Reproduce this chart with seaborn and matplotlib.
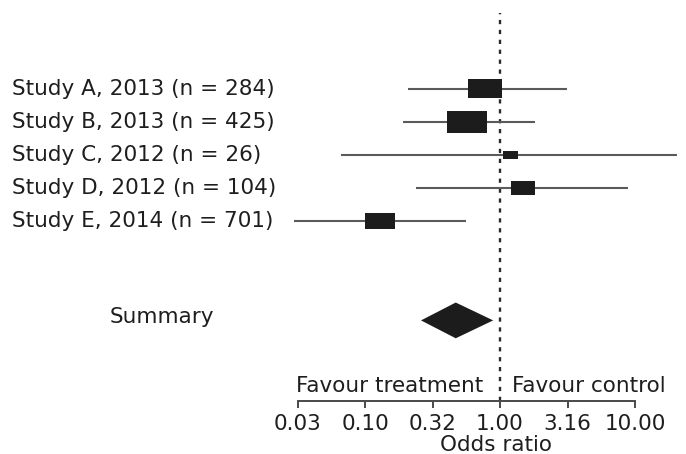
import numpy as np
import pandas as pd
import matplotlib
matplotlib.use("Agg")
import matplotlib.pyplot as plt
from matplotlib.path import Path
from matplotlib.ticker import NullLocator
import seaborn as sns

studies = ["Study A, 2013 (n = 284)", "Study B, 2013 (n = 425)", "Study C, 2012 (n = 26)",
           "Study D, 2012 (n = 104)", "Study E, 2014 (n = 701)"]
odds = [0.77, 0.57, 1.19, 1.47, 0.13]
ci_low = [0.21, 0.19, 0.066, 0.24, 0.030]
ci_high = [3.12, 1.82, 20.4, 8.9, 0.56]
weights = [26, 36, 5, 13, 20]

summary_label = "Summary"
summary_or = 0.47
summary_low = 0.26
summary_high = 0.89

tick_values = [10 ** -1.5, 0.1, 10 ** -0.5, 1.0, 10 ** 0.5, 10.0]
tick_labels = ["0.03", "0.10", "0.32", "1.00", "3.16", "10.00"]

sns.set_style("white")
plt.rcParams['font.family'] = ['DejaVu Sans']

df = pd.DataFrame({"study": studies, "OR": odds, "lo": ci_low, "hi": ci_high,
                   "weight": weights, "row": np.arange(len(studies))})
summary_row = 7

TEXT = "#1e1e1e"
FS = 15.5
fig = plt.figure(figsize=(6.86, 4.54), dpi=100)
ax = fig.add_axes([0, 53 / 454, 1, 401 / 454])

# confidence intervals
ax.hlines(df["row"], df["lo"], df["hi"], color="#5a5a5a", lw=1.5, zorder=2)

# weighted boxes (area ~ weight)
box = Path([(-1, -0.55), (1, -0.55), (1, 0.55), (-1, 0.55), (-1, -0.55)],
           [Path.MOVETO, Path.LINETO, Path.LINETO, Path.LINETO, Path.CLOSEPOLY])
sns.scatterplot(data=df, x="OR", y="row", size="weight", sizes=(5 * 23.1, 36 * 23.1),
                size_norm=(5, 36), marker=box, color="#1c1c1c", edgecolor="none",
                linewidth=0, legend=False, ax=ax, zorder=3)

# summary diamond
ax.fill([summary_low, summary_or, summary_high, summary_or],
        [summary_row, summary_row - 0.54, summary_row, summary_row + 0.54],
        color="#1c1c1c", lw=0, zorder=3)

ax.set_xscale("log")
ax.set_xlim(10 ** (-500 / 135), 10 ** (186 / 135))
ax.set_ylim(9.435, -2.68)

# line of no effect
ax.axvline(1.0, ymin=0, ymax=388 / 401, color="#2a2a2a", lw=1.7, ls=(0, (1.8, 2.4)), zorder=1)

for _, r in df.iterrows():
    ax.text(12 / 686, r["row"], r["study"], transform=ax.get_yaxis_transform(),
            ha="left", va="center", fontsize=FS, color=TEXT)
ax.text(110 / 686, summary_row - 0.1, summary_label, transform=ax.get_yaxis_transform(),
        ha="left", va="center", fontsize=FS, color=TEXT)

ax.annotate("Favour treatment", xy=(1.0, 0), xycoords=("data", "axes fraction"),
            xytext=(-12, 11), textcoords="offset points", ha="right", va="center",
            fontsize=FS, color=TEXT)
ax.annotate("Favour control", xy=(1.0, 0), xycoords=("data", "axes fraction"),
            xytext=(8.5, 11), textcoords="offset points", ha="left", va="center",
            fontsize=FS, color=TEXT)

for s in ["top", "left", "right"]:
    ax.spines[s].set_visible(False)
ax.spines["bottom"].set_bounds(tick_values[0], tick_values[-1])
ax.spines["bottom"].set_color("#4a4a4a")
ax.spines["bottom"].set_linewidth(1.4)
ax.set_yticks([])
ax.set_xticks(tick_values)
ax.set_xticklabels(tick_labels)
ax.xaxis.set_minor_locator(NullLocator())
ax.tick_params(axis="x", direction="out", length=5, width=1.4, color="#4a4a4a",
               pad=4, labelsize=FS, labelcolor=TEXT, bottom=True)
ax.set_xlabel("Odds ratio", fontsize=FS, color=TEXT)
ax.xaxis.set_label_coords(496 / 686, -0.085)
ax.set_ylabel("")

fig.savefig("out.png", dpi=100)
